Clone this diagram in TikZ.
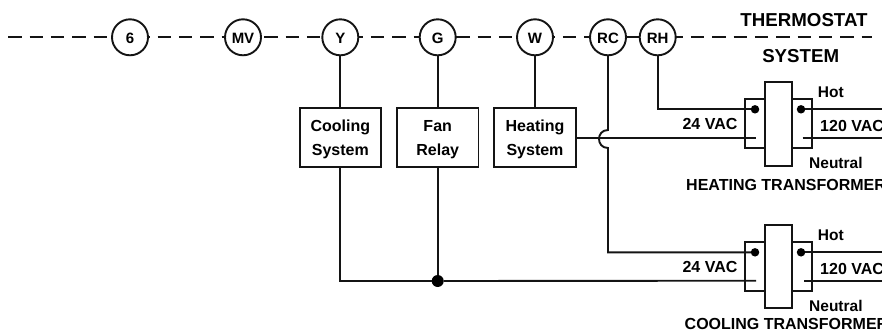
\documentclass[tikz,border=0pt]{standalone}
\usepackage{fontspec}
\setmainfont{Liberation Sans}
\tikzset{
  wire/.style={line width=1.9pt,black!92},
  dashwire/.style={line width=1.9pt,black!92,dash pattern=on 13.33pt off 8pt},
  term/.style={circle,draw=black!92,line width=1.9pt,fill=white,minimum size=36pt,inner sep=0pt,outer sep=0pt,text height=12.7pt,text depth=0pt,font=\fontsize{15}{15}\selectfont\bfseries},
  unitbox/.style={rectangle,draw=black!92,line width=1.9pt,fill=white,minimum width=81.5pt,minimum height=58.5pt,inner sep=0pt,outer sep=0pt,align=center,font=\fontsize{16}{23.5}\selectfont\bfseries},
  sidebox/.style={rectangle,draw=black!92,line width=1.9pt,fill=white,minimum width=20.5pt,minimum height=49pt,inner sep=0pt,outer sep=0pt},
  corebox/.style={rectangle,draw=black!92,line width=1.9pt,fill=white,minimum width=26.5pt,minimum height=83.3pt,inner sep=0pt,outer sep=0pt},
  pdot/.style={circle,fill=black,minimum size=8.5pt,inner sep=0pt,outer sep=0pt},
  jdot/.style={circle,fill=black,minimum size=12pt,inner sep=0pt,outer sep=0pt},
  head/.style={anchor=base,inner sep=0pt,font=\fontsize{18.7}{18.7}\selectfont\bfseries},
  lab/.style={anchor=base,inner sep=0pt,font=\fontsize{16}{16}\selectfont\bfseries},
  labw/.style={anchor=base west,inner sep=0pt,font=\fontsize{16}{16}\selectfont\bfseries},
  labs/.style={anchor=base west,inner sep=0pt,font=\fontsize{15.5}{15.5}\selectfont\bfseries},
}
\newcommand{\topstrut}{\rule{0pt}{15.6pt}}
\begin{document}
\begin{tikzpicture}[x=1pt,y=-1pt]
\useasboundingbox (0,0) rectangle (882,335);
% terminals
\node[term] (t6) at (130,37.3) {6};
\node[term] (tMV) at (243,37.3) {MV};
\node[term] (tY) at (340.3,37.3) {Y};
\node[term] (tG) at (437.7,37.3) {G};
\node[term] (tW) at (535,37.3) {W};
\node[term] (tRC) at (608,37.3) {RC};
\node[term] (tRH) at (657.7,37.3) {RH};
\coordinate (dL) at (8.3,37.3);
\coordinate (dR) at (871.7,37.3);
% dashed thermostat line
\draw[dashwire] (dL) -- (t6);
\draw[dashwire,dash phase=11.7pt] (t6) -- (tMV);
\draw[dashwire,dash phase=18pt] (tMV) -- (tY);
\draw[dashwire,dash phase=8.67pt] (tY) -- (tG);
\draw[dashwire,dash phase=20.73pt] (tG) -- (tW);
\draw[dashwire,dash phase=11.37pt] (tW) -- (tRC);
\draw[dashwire,dash phase=20.37pt] (tRC) -- (tRH);
\draw[dashwire,dash phase=6.07pt] (tRH) -- (dR);
% units
\node[unitbox] (cool) at (340.3,137.3) {\topstrut Cooling\\System};
\node[unitbox] (fan) at (437.7,137.3) {\topstrut Fan\\Relay};
\node[unitbox] (heat) at (535,137.3) {\topstrut Heating\\System};
% transformers
\node[sidebox] (hL) at (755,123.8) {};
\node[sidebox] (hR) at (802,123.8) {};
\node[corebox] (hC) at (778.5,124) {};
\node[sidebox] (cL) at (755,266.3) {};
\node[sidebox] (cR) at (802,266.3) {};
\node[corebox] (cC) at (778.5,266.7) {};
\node[pdot] (hLd) at (755,109.3) {};
\node[pdot] (hRd) at (801,109.3) {};
\node[pdot] (cLd) at (755,252.3) {};
\node[pdot] (cRd) at (801,252.3) {};
\node[jdot] (junc) at (437.7,281) {};
\coordinate (hLn) at (756,137.7);
\coordinate (hRn) at (802.7,137.7);
\coordinate (hRt) at (882,109.3);
\coordinate (hRb) at (882,137.7);
\coordinate (cLn) at (756,280.7);
\coordinate (cRn) at (804,280.7);
\coordinate (cRt) at (882,252.3);
\coordinate (cRb) at (882,280.7);
\coordinate (jTop) at (608,130);
\coordinate (jBot) at (608,148);
% wires
\draw[wire] (tY) -- (cool);
\draw[wire] (tG) -- (fan);
\draw[wire] (tW) -- (heat);
\draw[wire] (tRC) -- (jTop) .. controls (596,130) and (596,148) .. (jBot) |- (cLd);
\draw[wire] (heat.east |- hLn) -- (hLn);
\draw[wire] (tRH) |- (hLd);
\draw[wire] (hRd) -- (hRt);
\draw[wire] (hRn) -- (hRb);
\draw[wire] (cRd) -- (cRt);
\draw[wire] (cRn) -- (cRb);
\draw[wire] (cool) |- (junc);
\draw[wire] (fan) -- (junc);
\draw[wire] (junc) -- (cLn);
% labels
\node[head] (lT) at (804,26) {THERMOSTAT};
\node[head] (lS) at (800.7,62.7) {SYSTEM};
\node[lab] (l24h) at (710,129.5) {24 VAC};
\node[labs] (lHh) at (817.7,97.7) {Hot};
\node[labw] (l120h) at (820,131) {120 VAC};
\node[labs] (lNh) at (809,168) {Neutral};
\node[labw] (lHT) at (686,190) {HEATING TRANSFORMER};
\node[lab] (l24c) at (710,272) {24 VAC};
\node[labs] (lHc) at (817.7,240) {Hot};
\node[labw] (l120c) at (820,274) {120 VAC};
\node[labs] (lNc) at (809,311) {Neutral};
\node[labw] (lCT) at (684.5,329) {COOLING TRANSFORMER};
\end{tikzpicture}
\end{document}
